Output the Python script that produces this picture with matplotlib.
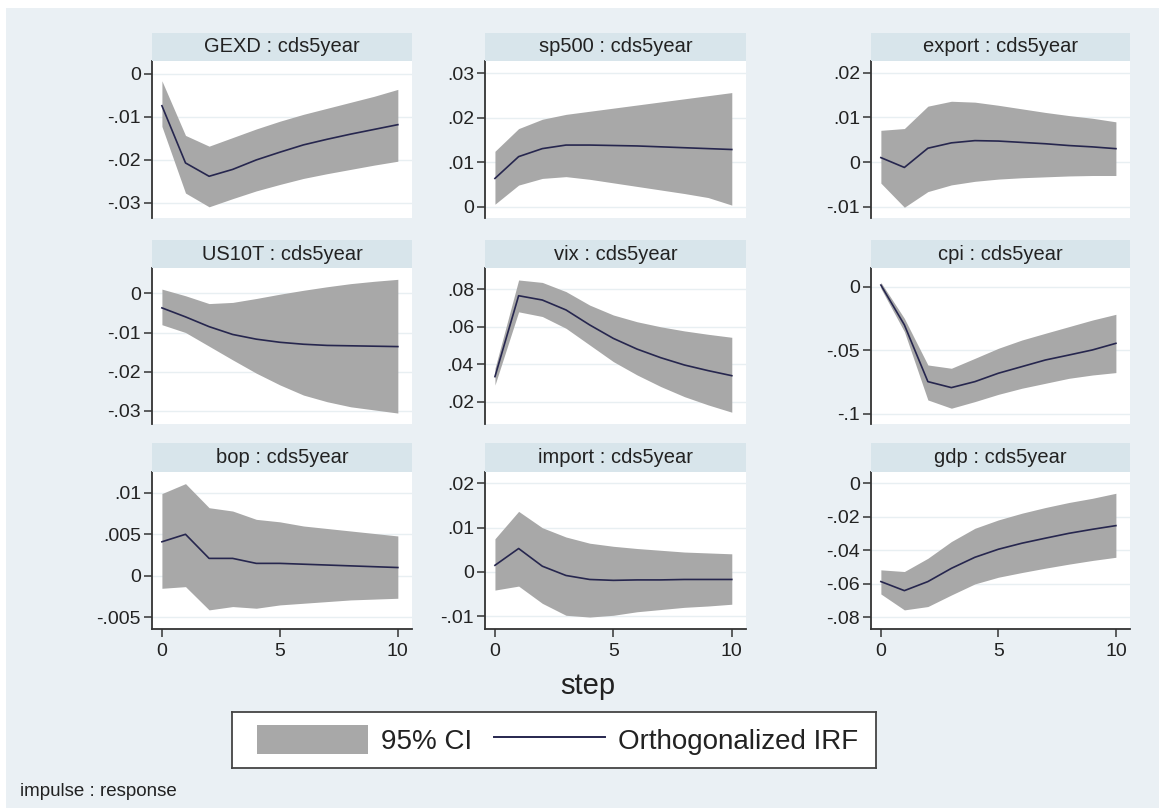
import numpy as np
import matplotlib
matplotlib.use('Agg')
from matplotlib import pyplot as plt
from matplotlib.patches import Patch, Rectangle
from matplotlib.lines import Line2D
from matplotlib.ticker import FuncFormatter

plt.rcParams['font.family'] = ['Liberation Sans', 'DejaVu Sans']

steps = np.arange(11)

titles = ['GEXD : cds5year', 'sp500 : cds5year', 'export : cds5year',
          'US10T : cds5year', 'vix : cds5year', 'cpi : cds5year',
          'bop : cds5year', 'import : cds5year', 'gdp : cds5year']

gexd_irf = [-0.0074, -0.0207, -0.0238, -0.0222, -0.0200, -0.0182, -0.0165, -0.0152, -0.0140, -0.0129, -0.0118]
gexd_hi  = [-0.0016, -0.0143, -0.0168, -0.0148, -0.0128, -0.0110, -0.0094, -0.0080, -0.0066, -0.0052, -0.0036]
gexd_lo  = [-0.0122, -0.0277, -0.0309, -0.0290, -0.0272, -0.0257, -0.0243, -0.0232, -0.0222, -0.0212, -0.0203]

sp500_irf = [0.0064, 0.0113, 0.0131, 0.0139, 0.0139, 0.0138, 0.0137, 0.0135, 0.0133, 0.0131, 0.0129]
sp500_hi  = [0.0125, 0.0176, 0.0197, 0.0208, 0.0215, 0.0222, 0.0229, 0.0236, 0.0243, 0.0250, 0.0257]
sp500_lo  = [0.0006, 0.0049, 0.0064, 0.0068, 0.0062, 0.0054, 0.0046, 0.0038, 0.0030, 0.0021, 0.0004]

export_irf = [0.0010, -0.0012, 0.0031, 0.0043, 0.0048, 0.0047, 0.0044, 0.0041, 0.0037, 0.0034, 0.0030]
export_hi  = [0.0071, 0.0075, 0.0125, 0.0136, 0.0134, 0.0127, 0.0119, 0.0111, 0.0104, 0.0098, 0.0090]
export_lo  = [-0.0047, -0.0101, -0.0066, -0.0051, -0.0043, -0.0038, -0.0035, -0.0033, -0.0031, -0.0030, -0.0030]

us10t_irf = [-0.0037, -0.0060, -0.0085, -0.0105, -0.0117, -0.0125, -0.0130, -0.0133, -0.0134, -0.0135, -0.0136]
us10t_hi  = [0.0011, -0.0006, -0.0026, -0.0023, -0.0013, -0.0002, 0.0008, 0.0017, 0.0025, 0.0031, 0.0036]
us10t_lo  = [-0.0080, -0.0100, -0.0135, -0.0170, -0.0204, -0.0234, -0.0260, -0.0277, -0.0290, -0.0298, -0.0306]

vix_irf = [0.0334, 0.0766, 0.0743, 0.0690, 0.0610, 0.0538, 0.0481, 0.0435, 0.0396, 0.0366, 0.0339]
vix_hi  = [0.0378, 0.0850, 0.0837, 0.0788, 0.0716, 0.0663, 0.0627, 0.0600, 0.0578, 0.0560, 0.0544]
vix_lo  = [0.0289, 0.0680, 0.0655, 0.0592, 0.0503, 0.0414, 0.0343, 0.0281, 0.0227, 0.0183, 0.0144]

cpi_irf = [0.0013, -0.0300, -0.0746, -0.0793, -0.0746, -0.0680, -0.0628, -0.0576, -0.0537, -0.0497, -0.0445]
cpi_hi  = [0.0034, -0.0249, -0.0615, -0.0641, -0.0563, -0.0484, -0.0419, -0.0366, -0.0314, -0.0262, -0.0217]
cpi_lo  = [-0.0013, -0.0353, -0.0890, -0.0955, -0.0903, -0.0846, -0.0798, -0.0759, -0.0720, -0.0694, -0.0675]

bop_irf = [0.0041, 0.0050, 0.0021, 0.0021, 0.0015, 0.0015, 0.0014, 0.0013, 0.0012, 0.0011, 0.0010]
bop_hi  = [0.0099, 0.0111, 0.0082, 0.0078, 0.0068, 0.0065, 0.0060, 0.0057, 0.0054, 0.0051, 0.0048]
bop_lo  = [-0.0015, -0.0013, -0.0041, -0.0037, -0.0039, -0.0035, -0.0033, -0.0031, -0.0029, -0.0028, -0.0027]

import_irf = [0.0015, 0.0053, 0.0013, -0.0008, -0.0017, -0.0019, -0.0018, -0.0018, -0.0017, -0.0017, -0.0017]
import_hi  = [0.0075, 0.0137, 0.0100, 0.0079, 0.0065, 0.0058, 0.0053, 0.0049, 0.0045, 0.0043, 0.0041]
import_lo  = [-0.0041, -0.0032, -0.0071, -0.0098, -0.0102, -0.0098, -0.0090, -0.0085, -0.0080, -0.0077, -0.0073]

gdp_irf = [-0.0587, -0.0641, -0.0587, -0.0508, -0.0442, -0.0394, -0.0358, -0.0328, -0.0299, -0.0275, -0.0253]
gdp_hi  = [-0.0517, -0.0527, -0.0448, -0.0348, -0.0269, -0.0219, -0.0179, -0.0145, -0.0115, -0.0090, -0.0060]
gdp_lo  = [-0.0661, -0.0756, -0.0736, -0.0667, -0.0601, -0.0561, -0.0533, -0.0507, -0.0483, -0.0461, -0.0442]

irfs = [gexd_irf, sp500_irf, export_irf, us10t_irf, vix_irf, cpi_irf, bop_irf, import_irf, gdp_irf]
his = [gexd_hi, sp500_hi, export_hi, us10t_hi, vix_hi, cpi_hi, bop_hi, import_hi, gdp_hi]
los = [gexd_lo, sp500_lo, export_lo, us10t_lo, vix_lo, cpi_lo, bop_lo, import_lo, gdp_lo]

yticks = [[0, -0.01, -0.02, -0.03], [0, 0.01, 0.02, 0.03], [-0.01, 0, 0.01, 0.02],
          [0, -0.01, -0.02, -0.03], [0.02, 0.04, 0.06, 0.08], [0, -0.05, -0.1],
          [0.01, 0.005, 0, -0.005], [-0.01, 0, 0.01, 0.02], [0, -0.02, -0.04, -0.06, -0.08]]
ylims = [(-0.0335, 0.003), (-0.0025, 0.0328), (-0.0125, 0.0226),
         (-0.0334, 0.0065), (0.0081, 0.0914), (-0.1079, 0.0147),
         (-0.0064, 0.0125), (-0.0129, 0.0226), (-0.087, 0.0067)]

W, H = 1159, 808
bg = '#eaf0f4'
strip_c = '#d8e5eb'
band_c = '#a8a8a8'
line_c = '#26264e'

col_x = [(152, 412), (485, 746), (871, 1130)]
row_y = [(61, 218), (268, 424), (472, 629)]
strip_y = [(33, 61), (240, 268), (443, 472)]


def fx(px):
    return px / W


def fy(py):
    return 1 - py / H


def stata_fmt(v, pos):
    if abs(v) < 1e-12:
        return '0'
    s = ('%.3f' % v).rstrip('0')
    return s.replace('0.', '.')


fig = plt.figure(figsize=(W / 100, H / 100), dpi=100, facecolor='white')
fig.patches.append(Rectangle((fx(6), 0), 1 - fx(6), fy(8), transform=fig.transFigure,
                             facecolor=bg, edgecolor='none', zorder=-10))

for i in range(9):
    r, c = divmod(i, 3)
    x0, x1 = col_x[c]
    y0, y1 = row_y[r]
    ax = fig.add_axes([fx(x0), fy(y1), fx(x1 - x0), fy(y0) - fy(y1)])
    ax.set_facecolor('white')
    ax.fill_between(steps, los[i], his[i], color=band_c, linewidth=0)
    ax.plot(steps, irfs[i], color=line_c, linewidth=1.2)
    ax.set_xlim(-0.42, 10.6)
    ax.set_ylim(*ylims[i])
    ax.set_yticks(yticks[i])
    ax.yaxis.set_major_formatter(FuncFormatter(stata_fmt))
    ax.grid(axis='y', color='#e8eff2', linewidth=1.0)
    ax.set_axisbelow(True)
    for side in ['top', 'right']:
        ax.spines[side].set_visible(False)
    ax.spines['left'].set_color('#333333')
    ax.spines['left'].set_linewidth(1.3)
    ax.tick_params(axis='y', direction='out', length=6, width=1.1, color='#333333',
                   labelsize=14, labelcolor='#222222', pad=2)
    if r == 2:
        ax.set_xticks([0, 5, 10])
        ax.spines['bottom'].set_color('#333333')
        ax.spines['bottom'].set_linewidth(1.3)
        ax.tick_params(axis='x', direction='out', length=6, width=1.1, color='#333333',
                       labelsize=14, labelcolor='#222222', pad=4)
    else:
        ax.spines['bottom'].set_visible(False)
        ax.set_xticks([])

    sy0, sy1 = strip_y[r]
    sax = fig.add_axes([fx(x0), fy(sy1), fx(x1 - x0), fy(sy0) - fy(sy1)])
    sax.set_facecolor(strip_c)
    sax.set_xticks([])
    sax.set_yticks([])
    for sp in sax.spines.values():
        sp.set_visible(False)
    sax.text(0.5, 0.5, titles[i], ha='center', va='center', fontsize=14.5,
             color='#222222', transform=sax.transAxes)

fig.text(fx(588), fy(686), 'step', ha='center', va='center', fontsize=21, color='#222222')

# legend box
lax = fig.add_axes([fx(232), fy(768), fx(876 - 232), fy(712) - fy(768)])
lax.set_facecolor('white')
lax.set_xticks([])
lax.set_yticks([])
for sp in lax.spines.values():
    sp.set_color('#444444')
    sp.set_linewidth(1.3)
handles = [Patch(facecolor=band_c, edgecolor='none'), Line2D([], [], color=line_c, linewidth=1.4)]
lax.legend(handles, ['95% CI', 'Orthogonalized IRF'], loc='center left', ncol=2, frameon=False,
           fontsize=20, handlelength=4.0, handleheight=1.2, handletextpad=0.45,
           columnspacing=0.8, borderaxespad=0.5, labelcolor='#222222')

fig.text(fx(20), fy(792), 'impulse : response', ha='left', va='center', fontsize=13.5,
         color='#222222')

fig.savefig('out.png', dpi=100, facecolor=fig.get_facecolor())
